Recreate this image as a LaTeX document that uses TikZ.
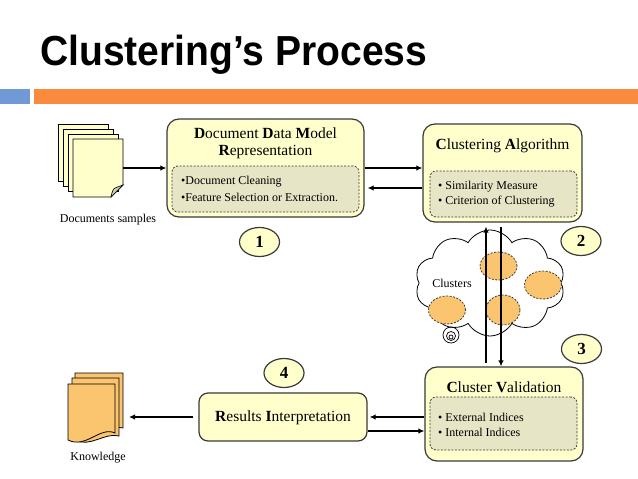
\documentclass[tikz,border=0pt]{standalone}
\usepackage{graphicx}
\usepackage{fontspec}
\setmainfont{Liberation Serif}
\newfontfamily\titlefont{Liberation Sans}
\usetikzlibrary{shapes.geometric,shapes.symbols,arrows.meta}
\definecolor{boxfill}{HTML}{FFFFCC}
\definecolor{innerfill}{HTML}{E6E5C6}
\definecolor{edge}{HTML}{3A3A3A}
\definecolor{barblue}{HTML}{7199D6}
\definecolor{barorange}{HTML}{FA8B3C}
\definecolor{clfill}{HTML}{FBC46E}
\definecolor{foldfill}{HTML}{CFCDAA}
\begin{document}
\begin{tikzpicture}[x=1pt,y=-1pt,
  bigbox/.style={draw=edge,line width=1.2pt,fill=boxfill,rounded corners=12pt,inner sep=0pt},
  innerbox/.style={draw=edge,line width=0.8pt,fill=innerfill,rounded corners=6pt,dash pattern=on 2pt off 1.5pt,inner sep=0pt},
  boxtitle/.style={inner sep=0pt,font=\fontsize{15.5}{18}\selectfont},
  itemtext/.style={inner sep=0pt,anchor=west,font=\fontsize{12}{14}\selectfont},
  smalltext/.style={inner sep=0pt,font=\fontsize{12}{14}\selectfont},
  numcirc/.style={ellipse,draw=edge,line width=1.2pt,fill=boxfill,minimum width=40pt,minimum height=29pt,inner sep=0pt,font=\fontsize{17}{20}\selectfont\bfseries},
  clell/.style={ellipse,draw=edge,line width=0.8pt,fill=clfill,dash pattern=on 2pt off 1.5pt,inner sep=0pt},
  arr/.style={line width=1.8pt,-{Latex[length=6pt,width=5.5pt]}},
  page/.style={draw=black,line width=0.8pt},
]
\useasboundingbox (0,0) rectangle (638,479);
\fill[white] (0,0) rectangle (638,479);

% title and bars
\node[anchor=base west,inner sep=0pt] (title) at (40,65) {\titlefont\bfseries\fontsize{42}{48}\selectfont\scalebox{0.93}[1]{Clustering’s Process}};
\fill[barblue] (0,89) rectangle (30,104);
\fill[barorange] (34,89) rectangle (638,104);

% documents samples
\foreach \k in {0,1,2} {
  \filldraw[page,fill=boxfill] (58+5*\k,124+5*\k) rectangle (108+5*\k,181+5*\k);
}
\filldraw[page,fill=boxfill] (73,139) -- (123,139) -- (123,185) -- (111,197) -- (73,197) -- cycle;
\filldraw[page,fill=foldfill,line width=0.6pt] (111,197) .. controls (112,192) and (113,189) .. (115,188) -- (123,185) .. controls (119,189) and (115,193) .. (111,197) -- cycle;
\coordinate (docs) at (123,168);
\node[smalltext] (docslabel) at (108,220) {Documents samples};

% knowledge
\filldraw[page,fill=clfill] (75,373) -- (123,373) -- (123,428) .. controls (110,424) and (95,440) .. (80,434) -- (75,432) -- cycle;
\filldraw[page,fill=clfill] (72,378) -- (119,378) -- (119,436) .. controls (105,432) and (90,448) .. (75,440) -- (72,440) -- cycle;
\filldraw[page,fill=clfill] (68,384) -- (115,384) -- (115,433) .. controls (100,426) and (86,449) .. (68,440) -- cycle;
\coordinate (know) at (129,417);
\node[smalltext] (knowlabel) at (98,458) {Knowledge};

% box 1
\node[bigbox,minimum width=197pt,minimum height=98pt] (box1) at (265.5,168) {};
\node[innerbox,minimum width=187pt,minimum height=46pt] (in1) at (265.5,189) {};
\node[boxtitle] (t1a) at (265.5,133) {\textbf{D}ocument \textbf{D}ata \textbf{M}odel};
\node[boxtitle] (t1b) at (265.5,152) {\textbf{R}epresentation};
\node[itemtext] (i1a) at (181,182) {•Document Cleaning};
\node[itemtext] (i1b) at (181,197) {•Feature Selection or Extraction.};

% box 2
\node[bigbox,minimum width=159pt,minimum height=98pt] (box2) at (502.5,173) {};
\node[innerbox,minimum width=147pt,minimum height=46pt] (in2) at (503.5,194) {};
\node[boxtitle] (t2) at (502.5,146) {\textbf{C}lustering \textbf{A}lgorithm};
\node[itemtext] (i2a) at (438,187) {• Similarity Measure};
\node[itemtext] (i2b) at (438,202) {• Criterion of Clustering};

% cluster validation
\node[bigbox,minimum width=158pt,minimum height=94pt] (cv) at (504,414) {};
\node[innerbox,minimum width=147pt,minimum height=53pt] (in3) at (503.5,423.5) {};
\node[boxtitle] (t3) at (504,387) {\textbf{C}luster \textbf{V}alidation};
\node[itemtext] (i3a) at (438,417) {• External Indices};
\node[itemtext] (i3b) at (438,432) {• Internal Indices};

% results interpretation
\node[bigbox,minimum width=168pt,minimum height=48pt,rounded corners=9pt] (ri) at (283,417) {};
\node[boxtitle] (t4) at (283,418) {\textbf{R}esults \textbf{I}nterpretation};

% numbers
\node[numcirc] (n1) at (259.5,242) {1};
\node[numcirc] (n2) at (581,241) {2};
\node[numcirc] (n3) at (581.5,349) {3};
\node[numcirc] (n4) at (284,373) {4};

% cloud
\node[cloud,draw=black,line width=0.8pt,fill=white,cloud puffs=10,cloud puff arc=120,aspect=1.45,minimum width=150pt,minimum height=106pt,inner sep=0pt] (cloud) at (490,283) {};
\draw[black,line width=0.7pt] (451,335) circle[radius=8pt];
\draw[black,line width=0.7pt] (451,336) circle[radius=4.5pt];
\draw[black,line width=0.7pt] (451,337) circle[radius=2pt];
\node[smalltext] (cllabel) at (452,283) {Clusters};
\node[clell,minimum width=37pt,minimum height=28pt] (e1) at (498.5,266) {};
\node[clell,minimum width=37pt,minimum height=28pt] (e2) at (543,285) {};
\node[clell,minimum width=37pt,minimum height=28pt] (e3) at (447,310) {};
\node[clell,minimum width=34pt,minimum height=30pt] (e4) at (503,310) {};

% connectors
\draw[arr] (docs) -- (docs -| box1.west);
\draw[arr] (box1.east) -- (box1.east -| box2.west);
\coordinate (r188) at (0,188);
\draw[arr,shorten >=3pt] (box2.west |- r188) -- (box1.east |- r188);
\coordinate (upst) at (486,363);
\draw[arr,shorten >=4pt] (upst) -- (upst |- box2.south);
\coordinate (dnst) at (501,227);
\draw[arr] (dnst) -- (dnst |- cv.north);
\coordinate (r417) at (0,417);
\coordinate (r431) at (0,431);
\draw[arr,shorten >=2pt] (cv.west |- r417) -- (ri.east |- r417);
\draw[arr] (ri.east |- r431) -- (cv.west |- r431);
\draw[arr,shorten <=5pt] (ri.west) -- (know);
\end{tikzpicture}
\end{document}
